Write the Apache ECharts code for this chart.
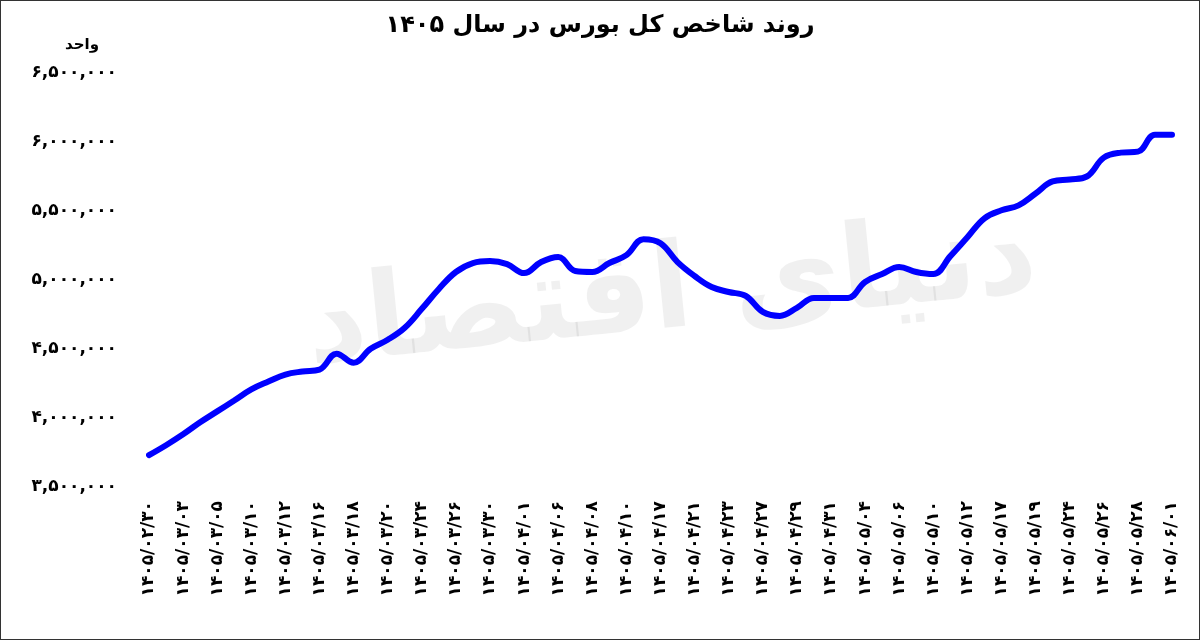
<!DOCTYPE html>
<html>
<head>
<meta charset="utf-8">
<script src="https://cdn.jsdelivr.net/npm/echarts@6/dist/echarts.min.js"></script>
<style>
  html,body{margin:0;padding:0;background:#fff;}
  #main{width:1198px;height:638px;border:1px solid #333;}
</style>
</head>
<body>
<div id="main"></div>
<script>
// برچسب‌های محور افقی (هر دو نقطه یک برچسب)
var dateLabels = ['1405/02/30','1405/03/03','1405/03/05','1405/03/10','1405/03/12','1405/03/16','1405/03/18','1405/03/20','1405/03/24','1405/03/26','1405/03/30','1405/04/01','1405/04/06','1405/04/08','1405/04/10','1405/04/17','1405/04/21','1405/04/23','1405/04/27','1405/04/29','1405/04/31','1405/05/04','1405/05/06','1405/05/10','1405/05/12','1405/05/17','1405/05/19','1405/05/24','1405/05/26','1405/05/28','1405/06/01'];
// مقادیر شاخص
var indexValues = [3731000,3803000,3882000,3969000,4048000,4127000,4207000,4264000,4315000,4337000,
  4351000,4466000,4401000,4502000,4567000,4654000,4791000,4935000,5058000,5123000,
  5137000,5115000,5050000,5130000,5166000,5065000,5058000,5123000,5180000,5296000,
  5267000,5130000,5029000,4949000,4913000,4885000,4769000,4740000,4798000,4870000,
  4870000,4870000,4986000,5043000,5094000,5058000,5043000,5173000,5310000,5447000,
  5505000,5541000,5627000,5714000,5728000,5750000,5887000,5923000,5930000,6053000,6053000];
var yMin = 3500000, yMax = 6500000, yStep = 500000;

function fa(s){ return String(s).replace(/[0-9]/g, function(d){ return '۰۱۲۳۴۵۶۷۸۹'[d]; }); }

// دسته‌ها: برچسب‌ها در نقاط زوج، نقاط میانی خالی
var categories = [];
dateLabels.forEach(function(d, i){
  categories.push(fa(d));
  if (i < dateLabels.length - 1) categories.push('');
});

var myChart = echarts.init(document.getElementById('main'));
var font = 'DejaVu Sans';
var option = {
  backgroundColor:'#fff',
  title:{
    text:'روند شاخص کل بورس در سال ۱۴۰۵',
    left:'center', top:8,
    textStyle:{fontFamily:font, fontWeight:'bold', fontSize:24, color:'#000'}
  },
  graphic:[{
    type:'text', left:300, top:200, rotation:0.1,
    style:{text:'دنیای اقتصاد', fontFamily:font, fontWeight:'bold', fontSize:118, fill:'rgba(0,0,0,0.06)'}
  }],
  grid:{left:148, right:27, top:72, bottom:152},
  xAxis:{
    type:'category', data:categories, boundaryGap:false,
    axisLine:{show:false}, axisTick:{show:false},
    axisLabel:{interval:0, rotate:90, margin:14, fontFamily:font, fontWeight:'bold', fontSize:17, color:'#000'}
  },
  yAxis:{
    type:'value', min:yMin, max:yMax, interval:yStep,
    name:'واحد', nameLocation:'end', nameGap:20,
    nameTextStyle:{fontFamily:font, fontWeight:'bold', fontSize:15, color:'#000', align:'right', padding:[0,50,0,0]},
    splitLine:{show:false}, axisLine:{show:false}, axisTick:{show:false},
    axisLabel:{margin:32, fontFamily:font, fontWeight:'bold', fontSize:17, color:'#000',
      formatter:function(v){ return fa(v.toLocaleString('en-US')); }}
  },
  series:[{
    type:'line', data:indexValues, smooth:0.4, symbol:'none',
    lineStyle:{color:'#0000ff', width:6, cap:'round'}
  }]
};
myChart.setOption(option);
</script>
</body>
</html>
